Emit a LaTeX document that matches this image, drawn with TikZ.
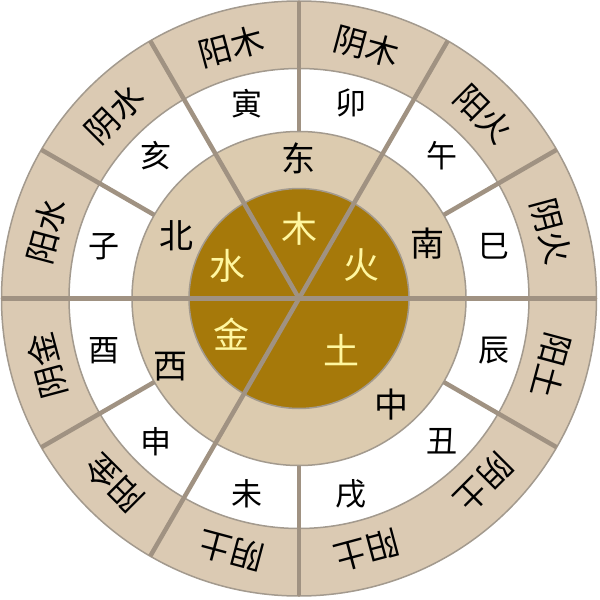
\documentclass[tikz,border=0pt]{standalone}
\usepackage{fontspec}
\newfontfamily\cjk{Noto Sans CJK SC}
\definecolor{outertan}{HTML}{DBCAB3}
\definecolor{ringtan}{HTML}{DCCBAF}
\definecolor{gold}{HTML}{A6790A}
\definecolor{divider}{HTML}{A09282}
\definecolor{edge}{HTML}{A39A8E}
\definecolor{pale}{HTML}{FFF7A0}
\begin{document}
\begin{tikzpicture}[x=1pt,y=1pt,
  ringedge/.style={draw=edge, line width=1.5pt},
  divline/.style={draw=divider, line width=4.5pt},
  outerlbl/.style={font=\cjk\fontsize{33}{34}\selectfont, text=black, inner sep=0pt},
  branchlbl/.style={font=\cjk\fontsize{31}{32}\selectfont, text=black, inner sep=0pt},
  dirlbl/.style={font=\cjk\fontsize{34}{35}\selectfont, text=black, inner sep=0pt},
  elemlbl/.style={font=\cjk\fontsize{36}{37}\selectfont, text=pale, inner sep=0pt}]
\useasboundingbox (-299,-301.5) rectangle (301,298.5);
% rings
\fill[outertan, ringedge] (0,0) circle (297.5);
\fill[white, ringedge] (0,0) circle (230);
\fill[ringtan, ringedge] (0,0) circle (167);
\fill[gold, ringedge] (0,0) circle (110);
% full dividers from the centre
\foreach \a in {0,60,120,180,240}
  \draw[divline] (0,0) -- (\a:297.5);
% dividers through the two outer rings only
\foreach \a in {30,90,150,210,270,330}
  \draw[divline] (\a:167) -- (\a:297.5);
% outer ring labels
\foreach \a/\t [count=\i] in {105/阳木,75/阴木,45/阳火,15/阴火,-15/阳土,-45/阴土,-75/阳土,-105/阴土,-135/阳金,-165/阴金,165/阳水,135/阴水}
  \node[outerlbl, rotate=\a-90] (o\i) at (\a:261) {\t};
% branch labels
\foreach \a/\t [count=\i] in {105/寅,75/卯,45/午,15/巳,-15/辰,-45/丑,-75/戌,-105/未,-135/申,-165/酉,165/子,135/亥}
  \node[branchlbl] (b\i) at (\a:202) {\t};
% directions
\node[dirlbl] (east) at (0,140) {东};
\node[dirlbl] (south) at (23:140) {南};
\node[dirlbl] (north) at (153:138) {北};
\node[dirlbl] (west) at (-152:145) {西};
\node[dirlbl] (centre) at (-49:141) {中};
% elements
\node[elemlbl] (wood) at (1,70) {木};
\node[elemlbl] (fire) at (63,33) {火};
\node[elemlbl] (water) at (-71,33) {水};
\node[elemlbl] (metal) at (-67,-36) {金};
\node[elemlbl] (earth) at (43,-52) {土};
\end{tikzpicture}
\end{document}
